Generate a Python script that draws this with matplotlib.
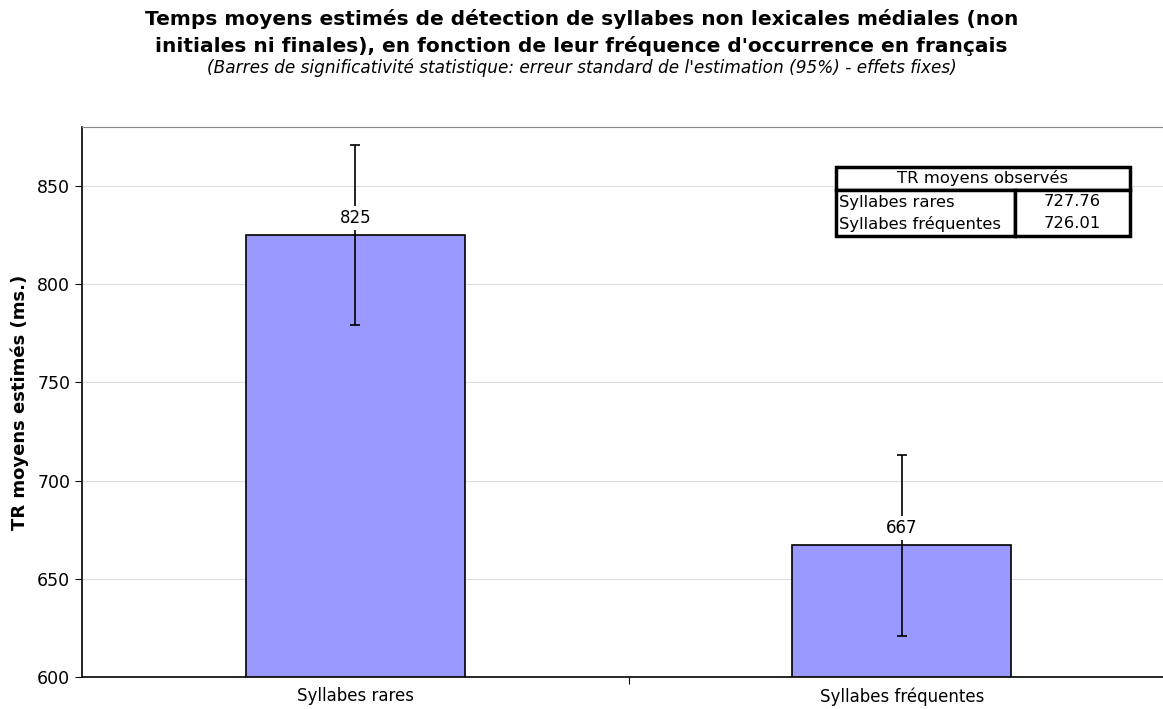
import matplotlib.pyplot as plt
from matplotlib.patches import Rectangle

# data
categories = ['Syllabes rares', 'Syllabes fréquentes']
estimates = [825, 667]
errors = [46, 46]
table_header = 'TR moyens observés'
table_rows = ['Syllabes rares', 'Syllabes fréquentes']
table_values = ['727.76', '726.01']

W, H = 1163, 709
fig = plt.figure(figsize=(W / 100, H / 100), dpi=100)

# axes run past the right edge of the picture, like the original
ax = fig.add_axes([82 / W, 32 / H, (1175 - 82) / W, (677 - 127) / H])

x = list(range(len(categories)))
ax.bar(x, estimates, width=0.4, color='#9999FF', edgecolor='black',
       linewidth=1.2, zorder=2)
ax.errorbar(x, estimates, yerr=errors, fmt='none', ecolor='black',
            elinewidth=1.2, capsize=3.5, capthick=1.2, zorder=3)
for xi, v in zip(x, estimates):
    ax.annotate(str(v), (xi, v), xytext=(0, 12.5), textcoords='offset points',
                ha='center', va='center', fontsize=12, zorder=4,
                bbox=dict(facecolor='white', edgecolor='none', pad=2))

ax.set_xlim(-0.5, 1.5)
ax.set_ylim(600, 880)
ax.set_yticks([600, 650, 700, 750, 800, 850])
ax.set_xticks([0.5])
ax.set_xticklabels([''])
ax.tick_params(axis='y', labelsize=12.5, length=5)
ax.tick_params(axis='x', length=5)
for xi, c in zip(x, categories):
    ax.text(xi, -0.035, c, transform=ax.get_xaxis_transform(),
            ha='center', va='center', fontsize=12)
ax.grid(axis='y', color='#dddddd', linewidth=0.8, zorder=0)
ax.set_axisbelow(True)
ax.spines['top'].set_color('#888888')
ax.spines['left'].set_linewidth(1.2)
ax.spines['bottom'].set_linewidth(1.2)
ax.set_ylabel('TR moyens estimés (ms.)', fontsize=13, fontweight='bold',
              labelpad=6)

fig.text(0.5, 1 - 19 / H,
         'Temps moyens estimés de détection de syllabes non lexicales médiales (non',
         ha='center', va='center', fontsize=14.5, fontweight='bold')
fig.text(0.5, 1 - 46 / H,
         "initiales ni finales), en fonction de leur fréquence d'occurrence en français",
         ha='center', va='center', fontsize=14.5, fontweight='bold')
fig.text(0.5, 1 - 68 / H,
         "(Barres de significativité statistique: erreur standard de l'estimation (95%) - effets fixes)",
         ha='center', va='center', fontsize=12.2, style='italic')

# observed means table, in figure pixels
def px(xp, yp):
    return xp / W, 1 - yp / H

tx0, tx1, tsplit = 836, 1130, 1015
ty0, ty1, ty2 = 167, 190, 236
for (a, b, c, d) in [(tx0, ty0, tx1, ty1), (tx0, ty1, tsplit, ty2), (tsplit, ty1, tx1, ty2)]:
    x0, y0 = px(a, d)
    fig.add_artist(Rectangle((x0, y0), (c - a) / W, (d - b) / H,
                             transform=fig.transFigure, facecolor='white',
                             edgecolor='black', linewidth=2.5, zorder=5))
fig.text(*px((tx0 + tx1) / 2, (ty0 + ty1) / 2), table_header,
         ha='center', va='center', fontsize=11.8, zorder=6)
row_y = [ty1 + 12, ty1 + 34]
for yy, lab, val in zip(row_y, table_rows, table_values):
    fig.text(*px(tx0 + 3, yy), lab, ha='left', va='center', fontsize=11.8, zorder=6)
    fig.text(*px((tsplit + tx1) / 2, yy), val, ha='center', va='center',
             fontsize=11.8, zorder=6)

fig.savefig('out.png', dpi=100)
